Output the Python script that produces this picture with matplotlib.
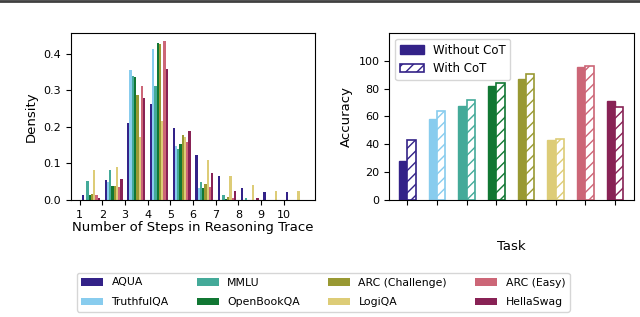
import matplotlib.pyplot as plt
from matplotlib.lines import Line2D
import numpy as np

tasks = ["AQUA", "TruthfulQA", "MMLU", "OpenBookQA",
         "ARC (Challenge)", "LogiQA", "ARC (Easy)", "HellaSwag"]
colors = ["#332288", "#88CCEE", "#44AA99", "#117733",
          "#999933", "#DDCC77", "#CC6677", "#882255"]

# number of steps (bin start) and the density read for each task
steps = [1, 2, 3, 4, 5, 6, 7, 8, 9, 10]
density = {
    "AQUA":            [0.014, 0.054, 0.210, 0.262, 0.197, 0.123, 0.066, 0.034, 0.021, 0.021],
    "TruthfulQA":      [0.000, 0.048, 0.355, 0.412, 0.149, 0.032, 0.000, 0.000, 0.000, 0.000],
    "MMLU":            [0.053, 0.081, 0.340, 0.313, 0.139, 0.050, 0.015, 0.006, 0.000, 0.000],
    "OpenBookQA":      [0.015, 0.037, 0.335, 0.430, 0.152, 0.032, 0.004, 0.000, 0.000, 0.000],
    "ARC (Challenge)": [0.016, 0.037, 0.288, 0.427, 0.179, 0.045, 0.007, 0.000, 0.000, 0.000],
    "LogiQA":          [0.081, 0.089, 0.172, 0.215, 0.173, 0.110, 0.066, 0.040, 0.024, 0.026],
    "ARC (Easy)":      [0.014, 0.035, 0.313, 0.435, 0.158, 0.035, 0.005, 0.000, 0.000, 0.000],
    "HellaSwag":       [0.005, 0.058, 0.280, 0.358, 0.188, 0.073, 0.024, 0.005, 0.000, 0.000],
}

acc_without = [28.2, 58.5, 67.3, 81.6, 87.2, 42.9, 95.5, 71.0]
acc_with = [43.2, 63.6, 72.0, 84.3, 90.6, 44.0, 96.6, 66.5]

fig = plt.figure(figsize=(6.4, 3.17), dpi=100)
ax1 = fig.add_axes([0.1105, 0.369, 0.3817, 0.527])
ax2 = fig.add_axes([0.6083, 0.369, 0.3823, 0.527])

# left: histogram of reasoning steps
bins = np.arange(1, 12)
_, _, patches = ax1.hist([steps] * len(tasks), bins=bins,
                         weights=[density[t] for t in tasks],
                         color=colors, label=tasks)
ax1.set_xticks(steps)
ax1.set_xlim(0.61, 11.38)
ax1.set_yticks([0.0, 0.1, 0.2, 0.3, 0.4])
ax1.tick_params(labelsize=8)
ax1.set_xlabel("Number of Steps in Reasoning Trace", fontsize=9.5, labelpad=1)
ax1.set_ylabel("Density", fontsize=9.5)

# right: accuracy with / without CoT
x = np.arange(len(tasks))
w = 0.28
for i in range(len(tasks)):
    ax2.bar(x[i] - w / 2, acc_without[i], w, color=colors[i], edgecolor=colors[i],
            linewidth=1, label="Without CoT" if i == 0 else None)
    ax2.bar(x[i] + w / 2, acc_with[i], w, color="white", edgecolor=colors[i],
            hatch="///", linewidth=1.2, label="With CoT" if i == 0 else None)
ax2.set_xticks(x)
ax2.set_xticklabels([])
ax2.set_xlim(-0.61, 7.64)
ax2.set_ylim(0, 120)
ax2.set_yticks([0, 20, 40, 60, 80, 100])
ax2.tick_params(labelsize=8)
ax2.set_xlabel("Task", fontsize=9.5, labelpad=22)
ax2.set_ylabel("Accuracy", fontsize=9.5)
ax2.legend(loc="upper left", fontsize=8.5)

fig.legend([p[0] for p in patches], tasks, loc="lower center", ncol=4,
           bbox_to_anchor=(0.505, 0.0), fontsize=7.8, columnspacing=2.6,
           labelspacing=0.9)

fig.add_artist(Line2D([0, 1], [0.996, 0.996], color="#404040", lw=2))

fig.savefig("out.png", dpi=100)
